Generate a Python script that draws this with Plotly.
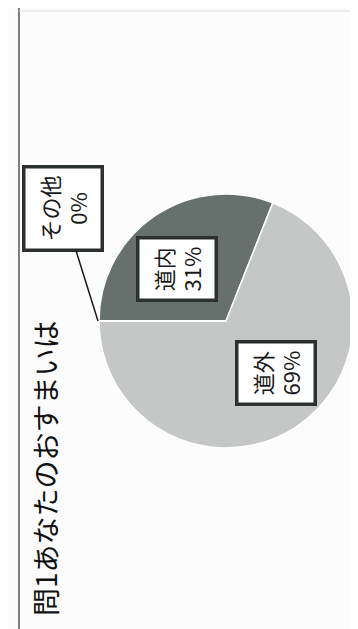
import plotly.graph_objects as go

categories = ["道内", "道外", "その他"]
values = [31, 69, 0]
pct_labels = ["31%", "69%", "0%"]
colors = ["#66706c", "#c5c7c6", "#e0e0e0"]
title_text = "問1あなたのおすまいは"

W, H = 358, 629
def px(x): return x / W
def py(y): return 1 - y / H

fig = go.Figure(go.Pie(
    labels=categories, values=values, sort=False, direction="clockwise",
    rotation=-90, textinfo="none", hoverinfo="label+percent",
    marker=dict(colors=colors, line=dict(color="white", width=1.5)),
    domain=dict(x=[px(91), px(345)], y=[py(440), py(186)]),
    showlegend=False,
))

font_lbl = dict(family="Noto Sans CJK JP", size=22, color="#1a1a1a")
box = dict(bgcolor="white", bordercolor="#2c302e", borderwidth=3.5, borderpad=7,
           textangle=-90, xref="paper", yref="paper", font=font_lbl, align="center",
           xanchor="center", yanchor="middle")

fig.add_annotation(x=px(268), y=py(365), text=f"{categories[1]}<br>{pct_labels[1]}",
                   showarrow=False, **box)
fig.add_annotation(x=px(169), y=py(261), text=f"{categories[0]}<br>{pct_labels[0]}",
                   showarrow=False, **box)
fig.add_annotation(x=px(90), y=py(313), text=f"{categories[2]}<br>{pct_labels[2]}",
                   showarrow=True, arrowhead=0, arrowwidth=1.5, arrowcolor="#1a1a1a",
                   ax=55 - 90, ay=201 - 313, standoff=0, **box)

fig.add_annotation(x=px(37), y=py(460), text=title_text, showarrow=False,
                   textangle=-90, xref="paper", yref="paper",
                   xanchor="center", yanchor="middle",
                   font=dict(family="Noto Sans CJK JP", size=28, color="#111111"))

fig.add_shape(type="line", xref="paper", yref="paper", x0=px(11), x1=px(11), y0=py(0), y1=py(623),
              line=dict(color="#555555", width=1.5))
fig.add_shape(type="line", xref="paper", yref="paper", x0=px(11), x1=px(358), y0=py(623), y1=py(623),
              line=dict(color="#555555", width=1.5))
fig.add_shape(type="line", xref="paper", yref="paper", x0=px(11), x1=px(358), y0=py(3), y1=py(3),
              line=dict(color="#dddddd", width=1))

fig.update_layout(width=W, height=H, margin=dict(l=0, r=0, t=0, b=0),
                  paper_bgcolor="#fcfcfc", plot_bgcolor="#fcfcfc")
fig.write_html("out.html")
